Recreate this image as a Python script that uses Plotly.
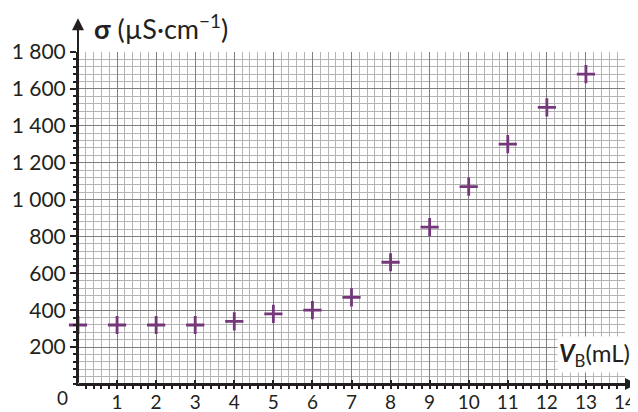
import plotly.graph_objects as go

# titration data
v_b = [0, 1, 2, 3, 4, 5, 6, 7, 8, 9, 10, 11, 12, 13]
sigma = [320, 320, 320, 320, 340, 380, 400, 470, 660, 850, 1070, 1300, 1500, 1680]

x_ticks = list(range(1, 15))
y_ticks = [200, 400, 600, 800, 1000, 1200, 1400, 1600, 1800]
y_labels = ["200", "400", "600", "800", "1\u202f000", "1\u202f200", "1\u202f400", "1\u202f600", "1\u202f800"]

FONT = "Lato"
INK = "#231f20"
MARK = "#74377a"

fig = go.Figure()
fig.add_trace(go.Scatter(
    x=v_b, y=sigma, mode="markers", cliponaxis=False,
    marker=dict(symbol="cross-thin", size=13, line=dict(width=2.8, color=MARK)),
    hoverinfo="x+y",
))

grid_major = "#7f7f7f"
grid_minor = "#b4b4b4"

fig.update_xaxes(
    range=[0, 14], tickvals=x_ticks, ticks="inside", ticklen=4, tickwidth=1.5,
    tickcolor=INK, showgrid=True, gridcolor=grid_major, gridwidth=1,
    minor=dict(dtick=0.2, showgrid=True, gridcolor=grid_minor, gridwidth=1,
               ticks="outside", ticklen=3, tickcolor=INK),
    showline=True, linecolor=INK, linewidth=2, zeroline=False, automargin=False,
    tickfont=dict(family=FONT, size=19, color=INK),
)
fig.update_yaxes(
    range=[0, 1800], tickvals=y_ticks, ticktext=y_labels, ticks="outside", ticklen=6,
    tickwidth=1.5, tickcolor=INK, showgrid=True, gridcolor=grid_major, gridwidth=1,
    minor=dict(dtick=40, showgrid=True, gridcolor=grid_minor, gridwidth=1,
               ticks="outside", ticklen=3, tickcolor=INK),
    showline=True, linecolor=INK, linewidth=2, zeroline=False, automargin=False,
    tickfont=dict(family=FONT, size=21, color=INK),
)

# axis arrows reaching beyond the grid
fig.add_annotation(xref="paper", yref="paper", x=0, y=1.102, ax=0, ay=366,
                   showarrow=True, arrowhead=2, arrowsize=1.2, arrowwidth=2,
                   arrowcolor=INK, text="")
fig.add_annotation(xref="paper", yref="paper", x=1.022, y=0, ax=-560, ay=0,
                   showarrow=True, arrowhead=2, arrowsize=1.2, arrowwidth=2,
                   arrowcolor=INK, text="")

fig.add_annotation(xref="paper", yref="paper", x=0.026, y=1.075, xanchor="left",
                   yanchor="middle", showarrow=False,
                   text="<b>σ</b> (µS·cm<sup>−1</sup>)",
                   font=dict(family=FONT, size=27, color=INK))
fig.add_annotation(xref="paper", yref="paper", x=1.013, y=0.09, xanchor="right",
                   yanchor="middle", showarrow=False, bgcolor="white",
                   text="<b><i>V</i></b><sub>B</sub>(mL)",
                   font=dict(family=FONT, size=24, color=INK))
fig.add_annotation(xref="paper", yref="paper", x=-0.028, y=-0.04, xanchor="center",
                   yanchor="middle", showarrow=False, text="0",
                   font=dict(family=FONT, size=19, color=INK))

# the page body adds an 8px offset, so the figure is 8px smaller on each side
fig.update_layout(
    width=630, height=404,
    margin=dict(l=70, r=13, t=44, b=28),
    plot_bgcolor="white", paper_bgcolor="white",
    showlegend=False,
)

fig.write_html("out.html")
